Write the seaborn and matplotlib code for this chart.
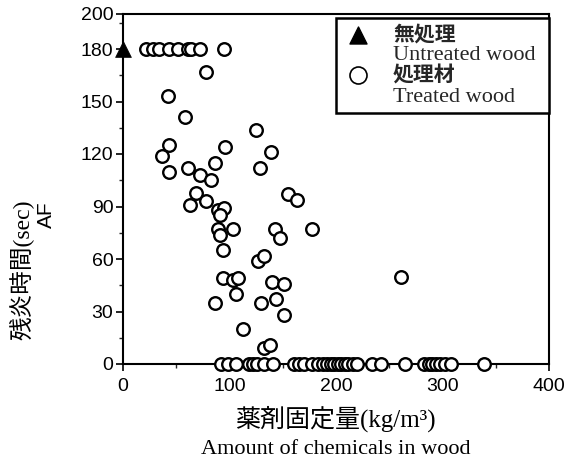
import matplotlib
matplotlib.use("Agg")
import matplotlib.pyplot as plt
import seaborn as sns
import pandas as pd
from matplotlib.patches import Rectangle

# Untreated wood
untreated_x = [0]
untreated_y = [180]

# Treated wood (points above zero)
treated_x = [22, 28, 34, 43, 52, 61, 64, 72, 95,
             78, 42, 58, 125, 43, 96, 37, 139, 61, 129, 86, 43, 72, 83,
             69, 63, 78, 155, 163, 89, 95, 91, 89, 103, 91, 143, 147, 177,
             94, 127, 132, 94, 103, 108, 140, 151, 261, 86, 106, 130, 144,
             151, 113, 132, 138]
treated_y = [180, 180, 180, 180, 180, 180, 180, 180, 180,
             167, 153, 141, 134, 125, 124, 119, 121, 112, 112, 115, 110, 108, 105,
             98, 91, 93, 97, 94, 88, 89, 85, 77, 77, 74, 77, 72, 77,
             65, 59, 62, 49, 48, 49, 47, 46, 50, 35, 40, 35, 37,
             28, 20, 9, 11]
# Treated wood with zero afterflame
zero_x = [92, 99, 106, 118, 122, 126, 132, 141, 161, 165, 170, 177, 183, 188,
          192, 195, 198, 202, 205, 208, 211, 216, 220, 234, 242, 265, 283, 287,
          290, 294, 298, 302, 308, 339]
zero_y = [0] * len(zero_x)

x_ticks = [0, 100, 200, 300, 400]
y_ticks = [0, 30, 60, 90, 120, 150, 180, 200]

sns.set_theme(style="ticks")
plt.rcParams["font.family"] = ["Liberation Sans", "DejaVu Sans"]

df_t = pd.DataFrame({"x": treated_x + zero_x, "y": treated_y + zero_y})
df_u = pd.DataFrame({"x": untreated_x, "y": untreated_y})

fig = plt.figure(figsize=(5.76, 4.66), dpi=100)
ax = fig.add_axes([123/576, 1 - 364/466, 426/576, 350/466])

sns.scatterplot(data=df_t, x="x", y="y", ax=ax, marker="o", s=82,
                facecolor="white", edgecolor="black", linewidth=1.7,
                clip_on=False, zorder=3)
sns.scatterplot(data=df_u, x="x", y="y", ax=ax, marker="^", s=130,
                color="black", edgecolor="black", linewidth=0.5,
                clip_on=False, zorder=4)

ax.set_xlim(0, 400)
ax.set_ylim(0, 200)
ax.set_xticks(x_ticks)
ax.set_yticks(y_ticks)
ax.set_xticks([50, 150, 250, 350], minor=True)
ax.set_yticks([15, 45, 75, 105, 135, 165, 195], minor=True)
ax.tick_params(axis="both", which="major", direction="out", length=5, width=1.2,
               labelsize=14, colors="black")
ax.tick_params(axis="y", which="major", pad=2)
ax.tick_params(axis="x", which="major", pad=5)
ax.tick_params(axis="both", which="minor", direction="out", length=3, width=1.0)
for sp in ax.spines.values():
    sp.set_visible(True)
    sp.set_color("black")
    sp.set_linewidth(1.5)
ax.set_xlabel("")
ax.set_ylabel("")

jp = ["Liberation Serif", "Noto Sans CJK JP"]
fig.text(335/576, 1 - 419/466, "薬剤固定量(kg/m³)", family=jp, fontsize=18,
         ha="center", va="center", color="black")
fig.text(336/576, 1 - 450/466, "Amount of chemicals in wood", family="Liberation Serif",
         fontsize=16, ha="center", va="center", color="black")
fig.text(22/576, 1 - 270/466, "残炎時間(sec)", family=jp, fontsize=17,
         rotation=90, ha="center", va="center", color="black")
fig.text(46/576, 1 - 215/466, "AF", family="Liberation Sans", fontsize=15,
         rotation=90, ha="center", va="center", color="black")

# Legend box
ax.add_patch(Rectangle((0.5, 0.717), 0.499, 0.273, transform=ax.transAxes,
                       facecolor="white", edgecolor="black", linewidth=1.8,
                       zorder=5, clip_on=False))
ax.scatter([0.552], [0.94], marker="^", s=150, color="black",
           transform=ax.transAxes, zorder=6, clip_on=False)
ax.scatter([0.552], [0.826], marker="o", s=150, facecolor="white",
           edgecolor="black", linewidth=1.2, transform=ax.transAxes,
           zorder=6, clip_on=False)
ax.text(0.634, 0.942, "無処理", family="Noto Sans CJK JP", fontweight="bold",
        fontsize=15, transform=ax.transAxes, va="center", ha="left", zorder=6)
ax.text(0.634, 0.882, "Untreated wood", family="Liberation Serif",
        fontsize=16, transform=ax.transAxes, va="center", ha="left", zorder=6)
ax.text(0.634, 0.826, "処理材", family="Noto Sans CJK JP", fontweight="bold",
        fontsize=15, transform=ax.transAxes, va="center", ha="left", zorder=6)
ax.text(0.634, 0.762, "Treated wood", family="Liberation Serif",
        fontsize=16, transform=ax.transAxes, va="center", ha="left", zorder=6)

fig.savefig("out.png", dpi=100)
